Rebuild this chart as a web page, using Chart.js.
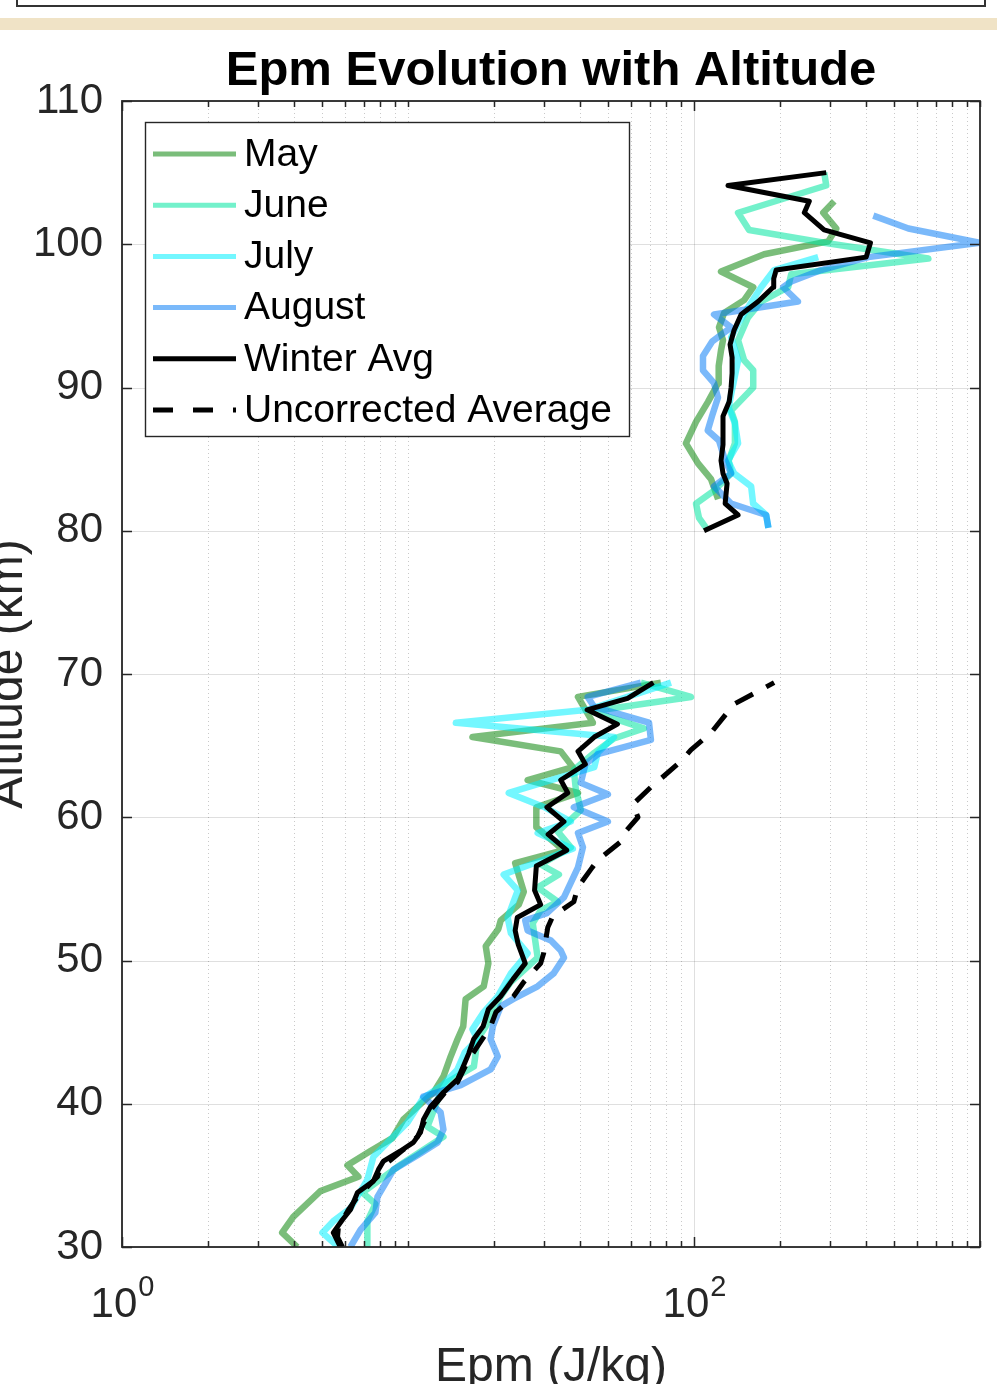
<!DOCTYPE html>
<html>
<head>
<meta charset="utf-8">
<title>Epm Evolution with Altitude</title>
<script src="https://cdn.jsdelivr.net/npm/chart.js@4.4.1/dist/chart.umd.min.js"></script>
<style>
  html, body { margin: 0; padding: 0; background: #fff; }
  body { width: 997px; height: 1384px; position: relative; overflow: hidden; }
  #frame { position: absolute; left: 16px; top: -10px; width: 966px; height: 13px; border: 2px solid #333; background: #fff; }
  #band { position: absolute; left: 0; top: 18px; width: 997px; height: 12px; background: #f0e3c6; }
  #plot { position: absolute; left: 0; top: 0; }
</style>
</head>
<body>
<div id="frame"></div>
<div id="band"></div>
<canvas id="plot" width="997" height="1384" style="width:997px;height:1384px"></canvas>
<script>
// Altitude (km) and Epm (J/kg) per profile; null splits the lower and upper segments
const mayAlt = [30.0,31.0,32.1,33.9,34.9,35.7,36.7,37.6,38.9,39.8,40.8,41.9,43.3,44.5,45.4,47.3,48.2,49.8,51.0,52.2,52.8,53.9,54.8,56.8,57.7,59.3,60.7,61.7,62.6,63.5,64.6,65.6,66.6,68.4,69.4,
  null, 82.2,83.6,84.7,86.1,87.6,89.0,90.3,91.5,92.6,93.3,94.2,95.2,96.1,97.0,98.1,99.3,100.2,101.1,102.2,103.0];
const mayEpm = [4.10,3.63,3.97,4.94,6.71,6.14,7.39,8.82,9.64,10.8,12.3,13.3,14.1,14.9,15.6,15.9,18.4,19.1,18.7,20.7,21.1,24.4,25.4,23.7,35.0,28.1,28.1,39.3,26.2,37.7,34.2,16.8,44.3,39.3,76.6,
  null, 121.4,114.7,103.3,93.7,101.6,111.9,121.4,122,124.3,126.3,122.3,127.4,149.7,161.1,124.3,175.9,294.7,314.5,283,309.3];

const juneAlt = [30.0,31.8,33.0,33.8,35.6,37.7,38.4,40.8,41.5,42.6,44.5,45.4,47.5,48.5,50.2,52.6,53.5,54.1,55.1,56.0,56.7,57.9,59.0,60.5,62.0,63.3,64.5,65.5,66.2,67.4,68.4,69.4,
  null, 80.2,80.9,81.9,82.8,84.0,84.9,86.1,87.6,88.4,90.0,91.2,91.9,93.3,94.9,96.0,97.0,97.9,99.0,100.1,101.0,102.2,104.1,105.0];
const juneEpm = [7.21,7.21,7.69,6.93,9.19,13.3,11.7,13.0,13.7,17.0,17.5,18.7,21.1,22.9,28.4,27.3,29.1,33.4,28.4,33.7,29.1,37.1,33.4,40.2,38.6,38.0,44.8,52.5,66.8,43.9,97.6,65.2,
  null, 110.2,104.1,101.6,117.5,134.8,132.2,139.0,139.0,134.8,161.1,161.1,149.7,142.6,154.6,171.7,213.4,218.7,660,285.3,155.8,142.6,290,285.3];

const julyAlt = [30.0,31.0,31.8,32.7,34.7,36.3,37.3,38.7,40.4,41.3,42.4,43.6,44.5,45.2,46.4,47.5,49.1,50.5,51.9,53.0,54.9,56.0,57.8,58.9,59.7,60.7,61.7,63.5,64.5,65.6,66.6,67.5,69.4,
  null, 80.2,81.1,81.9,83.1,84.0,84.9,86.1,87.5,88.6,89.5,90.5,91.9,93.5,94.5,95.6,97.0,98.2,99.1];
const julyEpm = [5.71,5.02,5.48,6.29,7.21,7.57,8.48,9.96,11.3,13.2,14.9,15.8,17.5,16.8,18.4,20.6,22.9,26.2,22.9,22.3,24.2,21.6,37.7,28.4,37.1,30.0,22.5,44.8,46.1,52.5,14.7,42.5,83.1,
  null, 182,178.8,161,158.4,138.1,131.5,142.6,139,132.2,134.8,138,142.6,134.8,143,154.6,171.7,190.6,271.8];

const augAlt = [30.0,31.2,32.4,33.5,35.4,36.4,37.3,38.2,39.4,40.5,41.3,42.4,43.3,44.5,45.4,46.8,47.3,48.2,49.1,50.2,50.7,51.4,52.1,52.8,53.3,54.4,56.5,57.9,58.9,59.7,60.7,61.6,62.4,63.7,64.4,65.4,66.6,67.7,68.4,69.4,
  null, 80.2,81.1,81.9,83.1,84.0,85.0,86.3,87.0,88.0,89.3,90.3,91.2,92.2,93.2,94.2,95.1,96.0,97.0,97.4,98.2,99.1,100.1,101.1,102.0];
const augEpm = [6.29,6.82,7.69,7.82,8.90,10.8,12.7,13.3,13.0,11.3,15.3,19.45,20.6,19.45,19.8,21.1,23.3,28.4,32.3,35.1,34.2,31.6,26.2,25.7,30.6,35.1,39.3,40.9,39.3,50.0,38.0,50.0,40.2,41.7,46.1,70.7,69.6,44.8,42.5,65.2,
  null, 182,178.8,134.8,117.5,134.8,128,122.3,111.7,115.6,121.3,117.5,107.5,107.5,115.6,134.8,117.5,231,205,218.7,278.5,407,1000,562,423.6];

const winterAlt = [30.0,31.0,31.9,32.6,33.8,34.6,35.4,36.0,36.7,37.3,38.0,38.9,39.8,40.8,41.7,42.6,43.5,44.5,45.4,46.6,47.5,48.7,49.8,51.1,52.1,53.0,53.9,54.9,56.6,57.7,58.8,59.7,60.7,61.7,62.6,63.7,64.6,65.6,66.5,67.5,68.3,69.4,
  null, 80.0,81.1,81.9,83.3,84.0,84.9,86.0,87.0,88.0,89.0,90.0,91.0,92.1,93.0,94.0,95.1,96.0,97.0,97.6,98.2,99.1,100.1,101.0,102.2,103.0,104.1,105.0];
const winterEpm = [5.80,5.48,5.90,6.29,6.66,7.57,7.88,8.21,9.41,10.45,11.06,11.33,11.99,13.31,14.9,15.6,16.3,16.96,18.3,19.1,21.1,23.3,25.7,24.3,23.7,24.1,29.1,27.7,28.1,35.9,30.9,35.1,30.6,36.2,34.2,41.7,39.3,44.8,54.0,42.3,58.6,72.1,
  null, 108.4,142.6,128.5,130.5,126.3,124.3,126.3,126.3,126.3,132.7,134.8,135.9,135.9,133.7,138.1,146.1,167.6,189.1,190,193.8,400,414,285,243,253,131.5,290];

const uncAlt = [30.0,30.7,31.4,32.6,33.5,34.9,35.5,36.8,37.7,39.4,41.0,41.5,43.1,44.0,45.4,46.4,47.5,48.5,49.8,50.5,52.3,53.1,54.1,55.1,56.5,57.0,58.3,58.8,60.0,60.9,62.1,63.9,64.7,65.9,67.9,69.4];
const uncEpm = [5.90,5.67,5.71,6.19,6.66,7.82,8.01,9.64,10.8,11.8,13.75,14.9,16.3,17.5,19.45,20.3,23.4,25.4,29.1,29.8,30.8,32.1,38.0,39.2,44.1,46.1,55.5,56.4,63.7,61.1,70.7,90.0,97.6,114.7,138.1,190.6];

// Axis ticks
const altTicks = [30, 40, 50, 60, 70, 80, 90, 100, 110];
const epmMajor = [1, 100];
const epmMajorExp = ['0', '2'];

const FONT = '"Liberation Sans", Arial, Helvetica, sans-serif';
const AXIS_COLOR = '#262626';

function points(alts, vals) {
  return alts.map((a, i) => (a === null ? { x: null, y: null } : { x: vals[i], y: a }));
}

const series = [
  { label: 'May',                 alt: mayAlt,    epm: mayEpm,    color: 'rgba(0,128,0,0.52)',   width: 6.5, dash: [],       order: 5 },
  { label: 'June',                alt: juneAlt,   epm: juneEpm,   color: 'rgba(0,230,160,0.55)', width: 6.5, dash: [],       order: 4 },
  { label: 'July',                alt: julyAlt,   epm: julyEpm,   color: 'rgba(0,240,255,0.55)', width: 6.5, dash: [],       order: 3 },
  { label: 'August',              alt: augAlt,    epm: augEpm,    color: 'rgba(0,120,245,0.52)', width: 6.5, dash: [],       order: 2 },
  { label: 'Winter Avg',          alt: winterAlt, epm: winterEpm, color: '#000000',              width: 5,   dash: [],       order: 1 },
  { label: 'Uncorrected Average', alt: uncAlt,    epm: uncEpm,    color: '#000000',              width: 5,   dash: [20, 15], order: 0 }
];

const datasets = series.map(s => ({
  label: s.label,
  data: points(s.alt, s.epm),
  borderColor: s.color,
  backgroundColor: s.color,
  borderWidth: s.width,
  borderDash: s.dash,
  borderJoinStyle: 'round',
  showLine: true,
  spanGaps: false,
  pointRadius: 0,
  pointHoverRadius: 0,
  fill: false,
  tension: 0,
  order: s.order
}));

// Grid, box, inward ticks, labels and legend in the MATLAB figure style
const figureDecor = {
  id: 'figureDecor',
  beforeDatasetsDraw(chart) {
    const { ctx, chartArea: a, scales: { x, y } } = chart;
    ctx.save();
    // minor (dotted) vertical grid
    ctx.lineWidth = 1;
    ctx.strokeStyle = 'rgba(38,38,38,0.25)';
    ctx.setLineDash([1, 3]);
    for (let d = 1; d < 1000; d *= 10) {
      for (let m = 1; m <= 9; m++) {
        const v = m * d;
        if (epmMajor.includes(v) || v <= 1) continue;
        const px = Math.round(x.getPixelForValue(v)) + 0.5;
        ctx.beginPath(); ctx.moveTo(px, a.top); ctx.lineTo(px, a.bottom); ctx.stroke();
      }
    }
    // major grid
    ctx.setLineDash([]);
    ctx.strokeStyle = 'rgba(38,38,38,0.15)';
    epmMajor.forEach(v => {
      const px = Math.round(x.getPixelForValue(v)) + 0.5;
      ctx.beginPath(); ctx.moveTo(px, a.top); ctx.lineTo(px, a.bottom); ctx.stroke();
    });
    altTicks.forEach(v => {
      const py = Math.round(y.getPixelForValue(v)) + 0.5;
      ctx.beginPath(); ctx.moveTo(a.left, py); ctx.lineTo(a.right, py); ctx.stroke();
    });
    ctx.restore();
  },
  afterDatasetsDraw(chart) {
    const { ctx, chartArea: a, scales: { x, y } } = chart;
    ctx.save();
    ctx.strokeStyle = AXIS_COLOR;
    ctx.lineWidth = 1.8;
    ctx.setLineDash([]);
    ctx.strokeRect(a.left, a.top, a.right - a.left, a.bottom - a.top);
    ctx.lineWidth = 1.5;
    // y ticks, left and right
    altTicks.forEach(v => {
      const py = Math.round(y.getPixelForValue(v)) + 0.5;
      ctx.beginPath();
      ctx.moveTo(a.left, py); ctx.lineTo(a.left + 10, py);
      ctx.moveTo(a.right, py); ctx.lineTo(a.right - 10, py);
      ctx.stroke();
    });
    // x ticks, bottom and top
    for (let d = 1; d <= 1000; d *= 10) {
      for (let m = 1; m <= 9; m++) {
        const v = m * d;
        if (v > 1000) break;
        const len = epmMajor.includes(v) ? 10 : 6;
        const px = Math.round(x.getPixelForValue(v)) + 0.5;
        ctx.beginPath();
        ctx.moveTo(px, a.bottom); ctx.lineTo(px, a.bottom - len);
        ctx.moveTo(px, a.top); ctx.lineTo(px, a.top + len);
        ctx.stroke();
      }
    }
    ctx.restore();
  },
  afterDraw(chart) {
    const { ctx, chartArea: a, scales: { x } } = chart;
    ctx.save();
    // title
    ctx.fillStyle = '#000';
    ctx.font = 'bold 49px ' + FONT;
    ctx.textAlign = 'center';
    ctx.textBaseline = 'alphabetic';
    ctx.fillText('Epm Evolution with Altitude', (a.left + a.right) / 2, 85);

    // x tick labels with exponents
    ctx.fillStyle = AXIS_COLOR;
    epmMajor.forEach((v, i) => {
      const px = x.getPixelForValue(v);
      ctx.font = '42px ' + FONT;
      const wb = ctx.measureText('10').width;
      ctx.font = '29px ' + FONT;
      const we = ctx.measureText(epmMajorExp[i]).width;
      const start = px - (wb + we) / 2;
      ctx.textAlign = 'left';
      ctx.font = '42px ' + FONT;
      ctx.fillText('10', start, 1317);
      ctx.font = '29px ' + FONT;
      ctx.fillText(epmMajorExp[i], start + wb + 1, 1296);
    });

    // axis labels
    ctx.font = '48px ' + FONT;
    ctx.textAlign = 'center';
    ctx.fillText('Epm (J/kg)', (a.left + a.right) / 2, 1381);
    ctx.save();
    ctx.translate(22, (a.top + a.bottom) / 2);
    ctx.rotate(-Math.PI / 2);
    ctx.fillText('Altitude (km)', 0, 0);
    ctx.restore();

    // legend box
    const lx = a.left + 23, ly = a.top + 21, lw = 484, lh = 314;
    ctx.fillStyle = '#fff';
    ctx.fillRect(lx, ly, lw, lh);
    ctx.strokeStyle = AXIS_COLOR;
    ctx.lineWidth = 1.4;
    ctx.strokeRect(lx + 0.5, ly + 0.5, lw, lh);
    series.forEach((s, i) => {
      const ry = ly + 32 + i * 51.2;
      ctx.beginPath();
      ctx.setLineDash(s.dash.length ? [20, 20] : []);
      ctx.lineCap = 'butt';
      ctx.strokeStyle = s.color;
      ctx.lineWidth = 5;
      ctx.moveTo(lx + 8, ry);
      ctx.lineTo(lx + 91, ry);
      ctx.stroke();
      ctx.setLineDash([]);
      ctx.fillStyle = '#000';
      ctx.font = '39px ' + FONT;
      ctx.textAlign = 'left';
      ctx.textBaseline = 'middle';
      ctx.fillText(s.label, lx + 99, ry + 1);
    });
    ctx.restore();
  }
};

Chart.defaults.font.family = FONT;

new Chart(document.getElementById('plot'), {
  type: 'scatter',
  data: { datasets },
  options: {
    responsive: false,
    animation: false,
    devicePixelRatio: 1,
    layout: { padding: { top: 101, right: 17, left: 0, bottom: 0 } },
    plugins: { legend: { display: false }, tooltip: { enabled: false }, title: { display: false } },
    events: [],
    scales: {
      x: {
        type: 'logarithmic', min: 1, max: 1000, position: 'bottom',
        grid: { display: false, drawTicks: false },
        border: { display: false },
        ticks: { display: false },
        afterFit(scale) { scale.height = 137; }
      },
      y: {
        type: 'linear', min: 30, max: 110, position: 'left',
        grid: { display: false, drawTicks: false },
        border: { display: false },
        afterBuildTicks(scale) { scale.ticks = altTicks.map(v => ({ value: v })); },
        ticks: { padding: 19, color: AXIS_COLOR, font: { size: 42 } },
        afterFit(scale) { scale.width = 122; }
      }
    }
  },
  plugins: [figureDecor]
});
</script>
</body>
</html>
